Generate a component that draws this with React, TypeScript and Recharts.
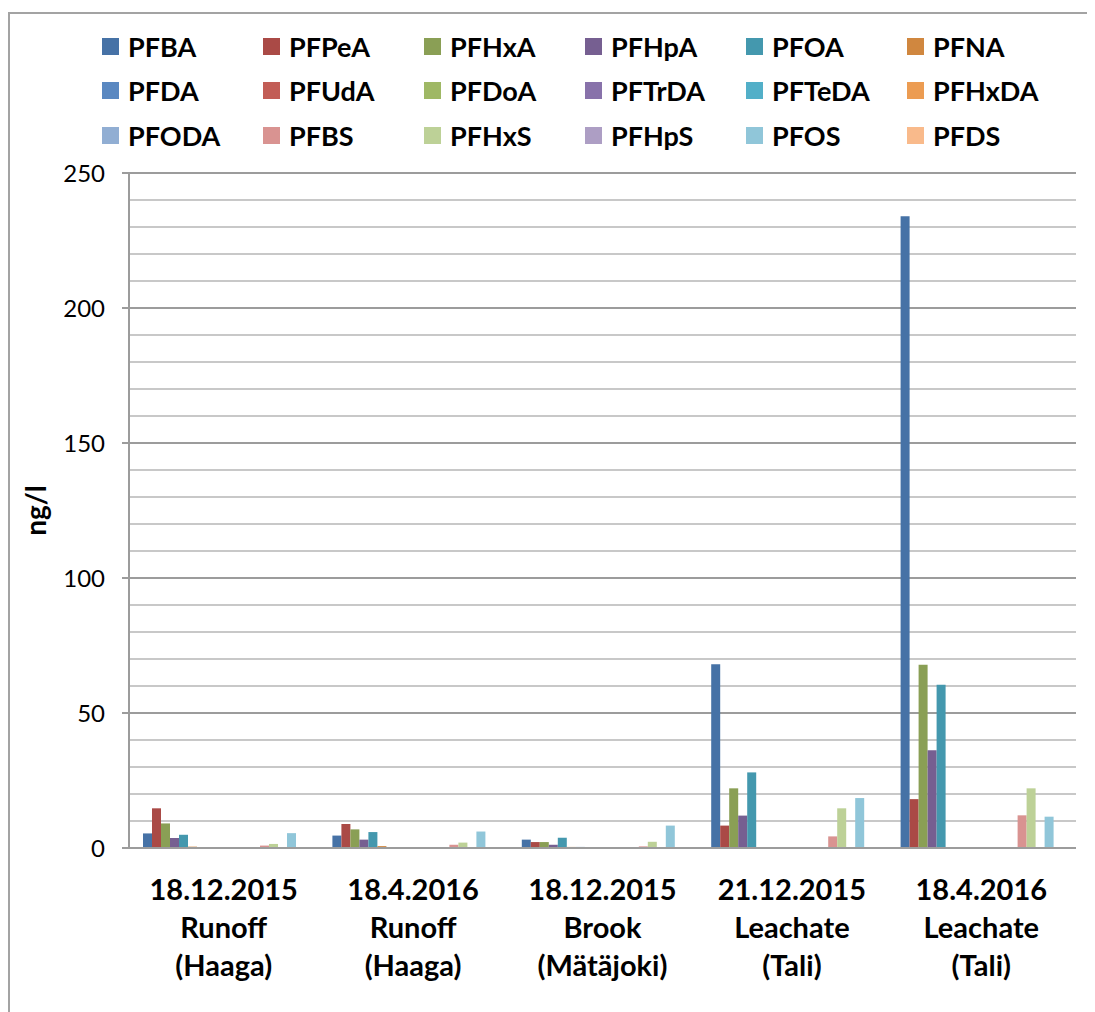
import { Bar, BarChart, CartesianGrid, XAxis, YAxis } from "recharts";

// sample labels (three lines under each group)
const sampleDates = ["18.12.2015", "18.4.2016", "18.12.2015", "21.12.2015", "18.4.2016"];
const sampleTypes = ["Runoff", "Runoff", "Brook", "Leachate", "Leachate"];
const sampleSites = ["(Haaga)", "(Haaga)", "(Mätäjoki)", "(Tali)", "(Tali)"];

const seriesNames = [
  "PFBA", "PFPeA", "PFHxA", "PFHpA", "PFOA", "PFNA",
  "PFDA", "PFUdA", "PFDoA", "PFTrDA", "PFTeDA", "PFHxDA",
  "PFODA", "PFBS", "PFHxS", "PFHpS", "PFOS", "PFDS",
];

const seriesColors = [
  "#4672a6", "#aa4a46", "#8a9f55", "#765f91", "#4498ae", "#d0873f",
  "#5a88c1", "#c25d56", "#9fb865", "#8872aa", "#52afc8", "#ec9c52",
  "#91aed3", "#d99391", "#bdd197", "#ad9ec4", "#90c6d9", "#f9ba8b",
];

// ng/l per sample
const PFBA = [5.4, 4.6, 3.1, 68.1, 234];
const PFPeA = [14.7, 8.9, 2.2, 8.3, 18.1];
const PFHxA = [9.1, 6.9, 2.2, 22.1, 67.9];
const PFHpA = [3.7, 3.1, 1.2, 12.0, 36.2];
const PFOA = [4.9, 5.9, 3.8, 28.0, 60.5];
const PFNA = [0.5, 0.7, 0.4, 0.3, 0];
const PFDA = [0.3, 0, 0.4, 0.3, 0];
const PFUdA = [0, 0, 0, 0.3, 0];
const PFDoA = [0, 0, 0, 0, 0];
const PFTrDA = [0, 0, 0, 0, 0];
const PFTeDA = [0, 0, 0, 0, 0];
const PFHxDA = [0, 0, 0, 0, 0];
const PFODA = [0, 0, 0, 0, 0];
const PFBS = [0.9, 1.2, 0.6, 4.3, 12.1];
const PFHxS = [1.5, 2.0, 2.3, 14.7, 22.1];
const PFHpS = [0, 0, 0, 0, 0.2];
const PFOS = [5.5, 6.1, 8.3, 18.5, 11.6];
const PFDS = [0, 0, 0, 0, 0];

const seriesValues = [
  PFBA, PFPeA, PFHxA, PFHpA, PFOA, PFNA,
  PFDA, PFUdA, PFDoA, PFTrDA, PFTeDA, PFHxDA,
  PFODA, PFBS, PFHxS, PFHpS, PFOS, PFDS,
];

const majorTicks = [0, 50, 100, 150, 200, 250];
const minorTicks = [0, 10, 20, 30, 40, 50, 60, 70, 80, 90, 100, 110, 120, 130, 140, 150, 160, 170, 180, 190, 200, 210, 220, 230, 240, 250];

const chartData = sampleDates.map((_, i) => {
  const row: Record<string, string | number> = { name: String(i) };
  seriesNames.forEach((n, s) => {
    row[n] = seriesValues[s][i];
  });
  return row;
});

const FONT = "Lato, 'Open Sans', sans-serif";

function CategoryTick(props: any) {
  const { x, y, payload } = props;
  const i = Number(payload.value);
  return (
    <text x={x} y={y} textAnchor="middle" fontFamily={FONT} fontWeight={700} fontSize={29} fill="#000">
      <tspan x={x} dy={52}>{sampleDates[i]}</tspan>
      <tspan x={x} dy={38}>{sampleTypes[i]}</tspan>
      <tspan x={x} dy={38}>{sampleSites[i]}</tspan>
    </text>
  );
}

function ChartLegend() {
  return (
    <div
      style={{
        position: "absolute",
        left: 94,
        top: 16,
        display: "grid",
        gridTemplateColumns: "repeat(6, 161px)",
        gridAutoRows: "44.5px",
        fontFamily: FONT,
        fontWeight: 700,
        fontSize: 27,
        color: "#000",
      }}
    >
      {seriesNames.map((n, i) => (
        <div key={n} style={{ display: "flex", alignItems: "center" }}>
          <span style={{ width: 17, height: 17, background: seriesColors[i], marginRight: 9, flexShrink: 0 }} />
          <span style={{ lineHeight: "27px" }}>{n}</span>
        </div>
      ))}
    </div>
  );
}

export default function App() {
  return (
    <div style={{ position: "relative", width: 1087, height: 1004, background: "#fff", overflow: "hidden" }}>
      <div
        style={{
          position: "absolute",
          left: 0,
          top: 4,
          width: 1087,
          height: 1000,
          borderLeft: "2px solid #a3a3a3",
          borderTop: "2px solid #a3a3a3",
          boxSizing: "border-box",
        }}
      />
      <ChartLegend />
      <BarChart
        width={1087}
        height={1004}
        data={chartData}
        margin={{ top: 165, right: 19, bottom: 0, left: 0 }}
        barGap={0}
        barSize={9}
        style={{ position: "absolute", left: 0, top: 0 }}
      >
        <CartesianGrid vertical={false} horizontalValues={minorTicks} stroke="#c8c8c8" strokeWidth={2} />
        <CartesianGrid vertical={false} horizontalValues={majorTicks} stroke="#9c9c9c" strokeWidth={2} />
        <XAxis
          dataKey="name"
          height={164}
          tickLine={false}
          tickSize={0}
          tickMargin={0}
          axisLine={{ stroke: "#9c9c9c", strokeWidth: 2 }}
          tick={<CategoryTick />}
          interval={0}
        />
        <YAxis
          width={121}
          domain={[0, 250]}
          ticks={majorTicks}
          interval={0}
          tickSize={7}
          tickMargin={17}
          tickLine={{ stroke: "#9c9c9c", strokeWidth: 2 }}
          axisLine={{ stroke: "#9c9c9c", strokeWidth: 2 }}
          tick={{ fontFamily: FONT, fontSize: 24, fill: "#000" }}
          label={{
            value: "ng/l",
            angle: -90,
            position: "insideLeft",
            offset: 28,
            style: { fontFamily: FONT, fontWeight: 700, fontSize: 28, fill: "#000", textAnchor: "middle" },
          }}
        />
        {seriesNames.map((n, i) => (
          <Bar key={n} dataKey={n} fill={seriesColors[i]} isAnimationActive={false} />
        ))}
      </BarChart>
    </div>
  );
}
